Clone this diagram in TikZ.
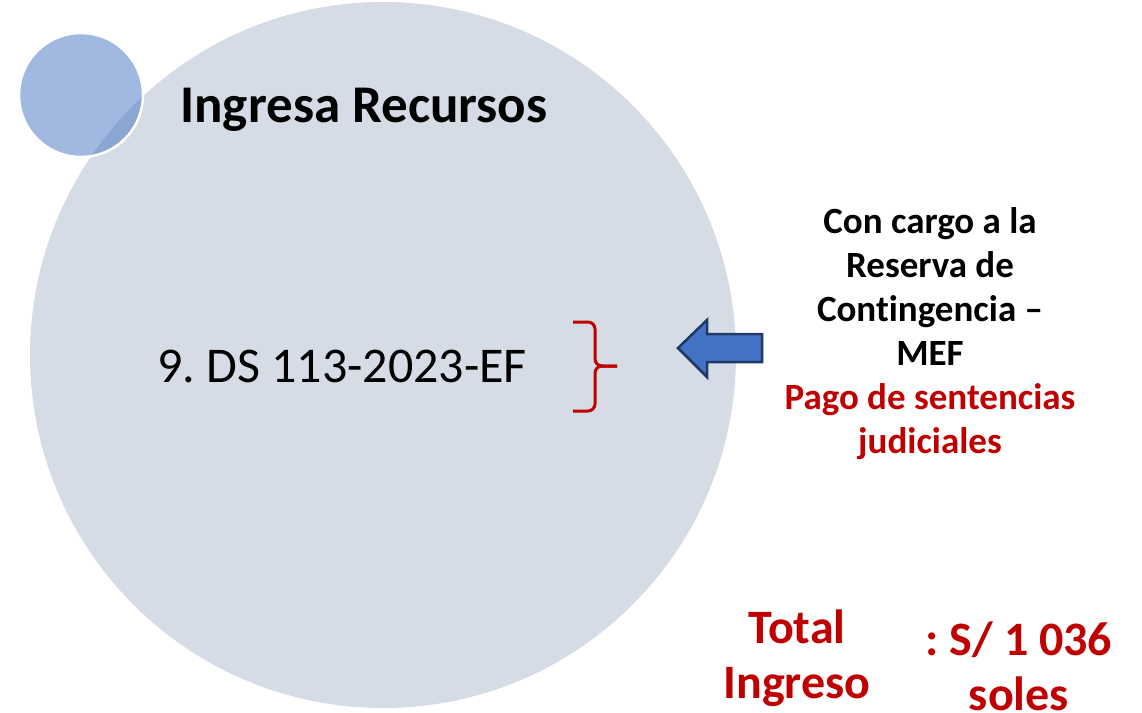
\documentclass[tikz,border=0pt]{standalone}
\usepackage{fontspec}
\setmainfont{Carlito}[Ligatures={NoCommon}]
\frenchspacing
\definecolor{biggray}{HTML}{D6DCE5}
\definecolor{accblue}{HTML}{4472C4}
\definecolor{navy}{HTML}{203864}
\definecolor{darkred}{HTML}{C00000}
\tikzset{
  bold36/.style={font=\bfseries\fontsize{37}{44}\selectfont, align=center, inner sep=0pt},
  bold47/.style={font=\bfseries\fontsize{48}{55}\selectfont, align=center, inner sep=0pt, text=darkred},
}
\begin{document}
\begin{tikzpicture}[x=1pt,y=-1pt]
\useasboundingbox (0,0) rectangle (1142,712);
% big circle
\fill[biggray] (383,355) circle[radius=353];
% small circle
\fill[accblue, fill opacity=0.5] (81,95) circle[radius=62];
\draw[white, line width=2.5pt] (81,95) circle[radius=62];
% title
\node[anchor=base, inner sep=0pt, font=\bfseries\fontsize{53}{62}\selectfont] (title) at (364,122) {Ingresa Recursos};
% item
\node[anchor=base, inner sep=0pt, font=\fontsize{50}{58}\selectfont] (item) at (342,382) {9. DS 113-2023-EF};
% brace
\draw[darkred, line width=3pt, rounded corners=7pt] (573,322) -- (595,322) -- (595,366) -- (617,366);
\draw[darkred, line width=3pt, rounded corners=7pt] (573,411) -- (595,411) -- (595,366) -- (617,366);
% arrow
\draw[fill=accblue, draw=navy, line width=2.5pt, line join=miter]
  (678,348) -- (707,320) -- (707,334) -- (762,334) -- (762,362) -- (707,362) -- (707,377) -- cycle;
% right text
\node[bold36, anchor=base] (src) at (930,453) {Con cargo a la\\Reserva de\\Contingencia –\\MEF\\\textcolor{darkred}{Pago de sentencias}\\\textcolor{darkred}{judiciales}};
% totals
\node[bold47, anchor=base] (tot) at (797,698) {Total\\Ingreso};
\node[bold47, anchor=base] (amt) at (1019,710) {: S/ 1 036\\soles};
\end{tikzpicture}
\end{document}
